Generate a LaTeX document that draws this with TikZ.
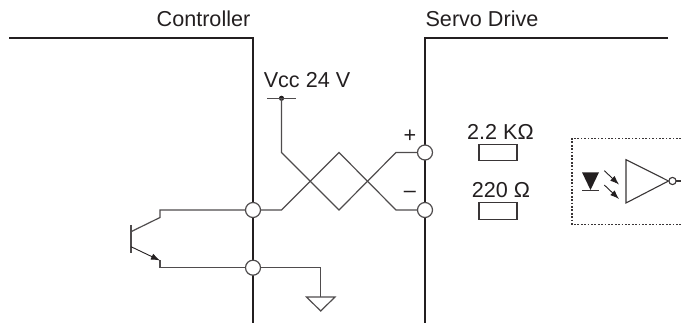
\documentclass[tikz,border=0pt]{standalone}
\usepackage{fontspec}
\setmainfont{Liberation Sans}
\usetikzlibrary{arrows.meta}
\definecolor{ink}{HTML}{231F20}
\tikzset{
  wire/.style={draw=ink!80,line width=1.2pt},
  bus/.style={draw=ink,line width=2.3pt},
  term/.style={circle,draw=ink!80,fill=white,line width=1.2pt,minimum size=15pt,inner sep=0pt},
  lbl/.style={font=\fontsize{21.6}{23}\selectfont,text=ink,inner sep=0pt},
  res/.style={draw=ink!90,line width=1.1pt,fill=white,minimum width=38pt,minimum height=16.5pt,inner sep=0pt},
  arr/.style={draw=ink,line width=.9pt,-{Latex[length=9pt,width=6.5pt]}},
  opto/.style={draw=ink!90,line width=1.1pt}
}
\begin{document}
\begin{tikzpicture}[x=1pt,y=-1pt]
\useasboundingbox (0,0) rectangle (681,323);
\coordinate (lt) at (9,38);
\coordinate (lc) at (253,38);
\coordinate (lb) at (253,323);
\coordinate (rc) at (425,38);
\coordinate (re) at (668,38);
\coordinate (rb) at (425,323);
\draw[bus] (lt) -- (lc) -- (lb);
\draw[bus] (re) -- (rc) -- (rb);
\node[lbl,anchor=base] (ctl) at (203.5,27) {Controller};
\node[lbl,anchor=base] (sd) at (482,27) {Servo Drive};
\node[lbl,anchor=base] (vcc) at (307,88) {Vcc 24 V};
\node[lbl,anchor=base] (plus) at (410,142.5) {+};
\node[lbl,anchor=base] (minus) at (410,198) {–};
\node[lbl,anchor=base] (rv1) at (500.5,139.5) {2.2 KΩ};
\node[lbl,anchor=base] (rv2) at (501,198) {220 Ω};
\node[res] (r1) at (498,152.4) {};
\node[res] (r2) at (498,211) {};
\node[term] (a) at (253,210) {};
\node[term] (b) at (253,267.7) {};
\node[term] (c) at (425,152.5) {};
\node[term] (d) at (425,210) {};
\coordinate (vl) at (267,98.3);
\coordinate (vr) at (296,98.3);
\coordinate (vd) at (281.5,98.3);
\fill[ink] (vd) circle (2.6pt);
\draw[wire] (vl) -- (vr);
\draw[wire] (vd) -- (281.5,152.5) -- (339,210) -- (396,152.5) -- (c);
\draw[wire] (a) -- (281.5,210) -- (339,152.5) -- (396,210) -- (d);
% transistor
\draw[wire] (131,225) -- (131,253);
\draw[wire] (a) -- (160,210) -- (160,217.5) -- (131,231.7);
\draw[wire] (b) -- (160,267.7) -- (160,260.5);
\draw[arr] (131,246.7) -- (160,260.5);
% ground
\coordinate (g) at (320.7,297);
\draw[wire] (b) -- (320.7,267.7) -- (g);
\draw[wire] (306.5,297) -- (335,297) -- (320.7,311) -- cycle;
% opto
\draw[ink!90,line width=1.2pt,dash pattern=on 1.7pt off 1.7pt] (681,138.3) -- (572,138.3) -- (572,224.5) -- (681,224.5);
\fill[ink] (582,172.3) -- (599,172.3) -- (590.5,190) -- cycle;
\draw[opto] (582,190.3) -- (599,190.3);
\draw[arr] (604.3,170.7) -- (619,184.5);
\draw[arr] (604.3,185) -- (619,199);
\draw[opto] (626,159.7) -- (668.5,181) -- (626,203) -- cycle;
\draw[opto] (672.5,181) circle (3.6pt);
\draw[opto] (676.2,181) -- (681,181);
\end{tikzpicture}
\end{document}
